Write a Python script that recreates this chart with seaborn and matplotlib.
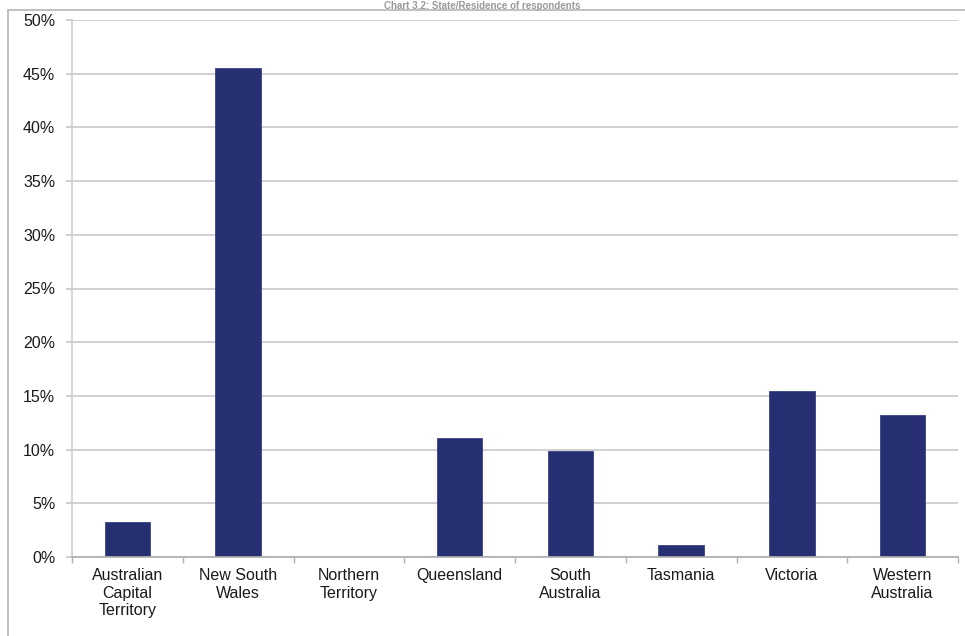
import matplotlib
matplotlib.use("Agg")
import matplotlib.pyplot as plt
import seaborn as sns
import pandas as pd
from matplotlib.ticker import FuncFormatter, MultipleLocator
from matplotlib.patches import Rectangle

states = ["Australian\nCapital\nTerritory", "New South\nWales", "Northern\nTerritory",
          "Queensland", "South\nAustralia", "Tasmania", "Victoria", "Western\nAustralia"]
shares = [3.3, 45.5, 0.0, 11.1, 9.9, 1.1, 15.5, 13.2]
title_text = "Chart 3.2: State/Residence of respondents"

df = pd.DataFrame({"state": states, "share": shares})

sns.set_theme(style="white")
plt.rcParams["font.family"] = ["Liberation Sans", "DejaVu Sans"]

fig = plt.figure(figsize=(9.65, 6.36), dpi=100)
ax = fig.add_axes([72 / 965, 1 - 557 / 636, (958 - 72) / 965, (557 - 20) / 636])

sns.barplot(data=df, x="state", y="share", color="#252f72", width=0.41,
            saturation=1, ax=ax, edgecolor="#3a4384", linewidth=0.6)

ax.set_ylim(0, 50)
ax.set_xlim(-0.5, len(states) - 0.5)
ax.yaxis.set_major_locator(MultipleLocator(5))
ax.yaxis.set_major_formatter(FuncFormatter(lambda v, p: f"{v:.0f}%"))
ax.grid(axis="y", color="#c8c8c8", linewidth=1.2)
ax.set_axisbelow(True)
for s in ["top", "right"]:
    ax.spines[s].set_visible(False)
ax.spines["left"].set_color("#d0d0d0")
ax.spines["bottom"].set_color("#b0b0b0")
ax.set_xlabel("")
ax.set_ylabel("")
ax.tick_params(axis="y", length=4, color="#c8c8c8", labelsize=11.5, pad=8, left=True, labelcolor="#1a1a1a")
ax.tick_params(axis="x", length=0, labelsize=11.5, pad=8, labelcolor="#1a1a1a")
# category boundary ticks
ax.set_xticks([i - 0.5 for i in range(len(states) + 1)], minor=True)
ax.tick_params(axis="x", which="minor", length=4, color="#b0b0b0", bottom=True)

# outer frame
fig.patches.append(Rectangle((8 / 965, -0.01), 1.0, 1 - 10 / 636 + 0.01,
                             transform=fig.transFigure, fill=False,
                             edgecolor="#b5b5b5", linewidth=1.2))
fig.text(0.5, 1 - 1 / 636, title_text, ha="center", va="top",
         fontsize=7, fontweight="bold", color="#999999")

fig.savefig("out.png", dpi=100)
